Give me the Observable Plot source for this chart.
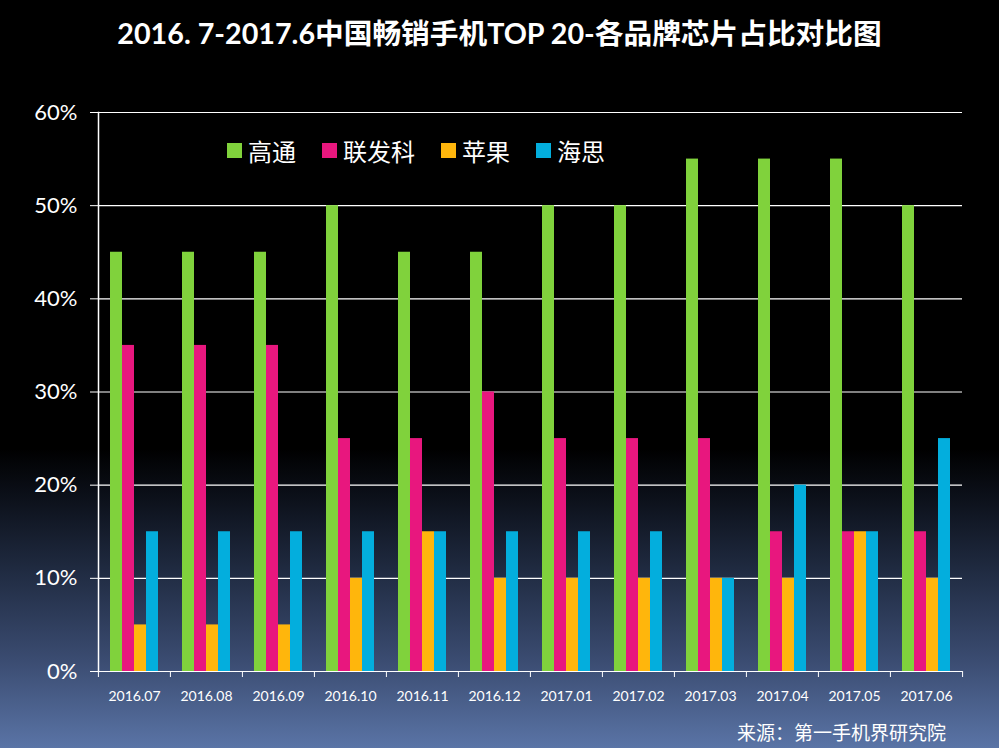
<!DOCTYPE html>
<html>
<head>
<meta charset="utf-8">
<script src="https://cdn.jsdelivr.net/npm/d3@7"></script>
<script src="https://cdn.jsdelivr.net/npm/@observablehq/plot@0.6"></script>
<style>
  html, body { margin: 0; padding: 0; }
  body { width: 999px; height: 748px; overflow: hidden;
    background: linear-gradient(to bottom, #000 0%, #000 60%, #0b0f18 66%, #1f2a40 76%, #3a4b70 88%, #5a74a6 100%);
    font-family: Lato, "Noto Sans CJK SC", sans-serif; color: #fff; }
  #wrap { position: relative; width: 999px; height: 748px; }
  #title { position: absolute; top: 13px; left: 0; width: 999px; text-align: center;
    font-size: 28.7px; font-weight: bold; line-height: 40px; }
  #chart { position: absolute; top: 80px; left: 0; }
  #legend { position: absolute; top: 133px; left: 227px; display: flex; align-items: center; }
  #legend .item { display: flex; align-items: center; margin-right: 26px; font-size: 24px; }
  #legend .sw { width: 15px; height: 15px; margin-right: 6px; }
  #caption { position: absolute; top: 718px; right: 53px; font-size: 19px; }
</style>
</head>
<body>
<div id="wrap">
  <div id="title">2016. 7-2017.6中国畅销手机TOP 20-各品牌芯片占比对比图</div>
  <div id="chart"></div>
  <div id="legend"></div>
  <div id="caption">来源：第一手机界研究院</div>
</div>
<script>
const months = ["2016.07","2016.08","2016.09","2016.10","2016.11","2016.12","2017.01","2017.02","2017.03","2017.04","2017.05","2017.06"];
const series = ["高通","联发科","苹果","海思"];
const qualcomm = [45,45,45,50,45,45,50,50,55,55,55,50];
const mediatek = [35,35,35,25,25,30,25,25,25,15,15,15];
const apple    = [5,5,5,10,15,10,10,10,10,10,15,10];
const hisilicon= [15,15,15,15,15,15,15,15,10,20,15,25];
const colors = ["#80d23c","#e8177e","#ffb60c","#03aedd"];
const yTicks = [0,10,20,30,40,50,60];

const seriesValues = [qualcomm, mediatek, apple, hisilicon];
const data = months.flatMap((m, i) => series.map((s, j) => ({month: m, series: s, value: seriesValues[j][i]})));

const W = 999, H = 640, ML = 97, MR = 36, MT = 32, MB = 49;
const half = (W - ML - MR) / months.length / 2;

const chart = Plot.plot({
  width: W, height: H,
  marginLeft: ML, marginRight: MR, marginTop: MT, marginBottom: MB,
  style: {background: "transparent", color: "white", fontFamily: "Lato, 'Noto Sans CJK SC', sans-serif"},
  fx: {domain: months, paddingInner: 0, paddingOuter: 0, label: null, axis: null},
  x: {domain: series, paddingInner: 0, paddingOuter: 0.77, axis: null},
  y: {domain: [0, 60], axis: null},
  color: {domain: series, range: colors},
  marks: [
    Plot.ruleY(yTicks, {stroke: "white", strokeWidth: 1.2}),
    Plot.barY(data, {fx: "month", x: "series", y: "value", fill: "series", inset: 0}),
    Plot.frame({anchor: "left", stroke: "white", strokeWidth: 1.5, facetAnchor: "left"}),
    Plot.axisY({ticks: yTicks, tickFormat: d => d + "%", tickSize: 8, tickPadding: 13, fontSize: 22, color: "white", label: null}),
    Plot.axisFx({anchor: "bottom", tickSize: 0, tickPadding: 20, fontSize: 14, color: "white", label: null}),
    Plot.axisFx({anchor: "bottom", tickSize: 6, tickFormat: () => "", dx: -half, color: "white", label: null}),
    Plot.axisFx({anchor: "bottom", tickSize: 6, tickFormat: () => "", dx: half, color: "white", label: null, facetAnchor: "right"})
  ]
});
document.getElementById("chart").appendChild(chart);

const legend = d3.select("#legend");
series.forEach((s, i) => {
  const item = legend.append("div").attr("class", "item");
  item.append("div").attr("class", "sw").style("background", colors[i]);
  item.append("span").text(s);
});
</script>
</body>
</html>
